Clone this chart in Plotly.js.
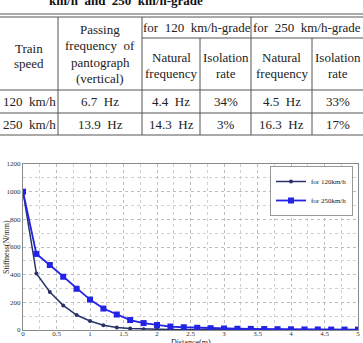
<!DOCTYPE html>
<html>
<head>
<meta charset="utf-8">
<script src="https://cdn.plot.ly/plotly-3.0.1.min.js"></script>
<style>
  html, body { margin: 0; padding: 0; background: #fff; }
  #chart { width: 363px; height: 343px; }
</style>
</head>
<body>
<div id="chart"></div>
<script>
// ---- Table data ----
const tableCaption = 'km/h\u00a0 and\u00a0 250\u00a0 km/h-grade';
const speedHeader = ['Train', 'speed'];
const passingHeader = ['Passing', 'frequency\u00a0 of', 'pantograph', '(vertical)'];
const gradeHeaders = ['for\u00a0 120\u00a0 km/h-grade', 'for\u00a0 250\u00a0 km/h-grade'];
const subHeaders = [['Natural', 'frequency'], ['Isolation', 'rate']];
const trainSpeeds = ['120\u00a0 km/h', '250\u00a0 km/h'];
const passingFreq = ['6.7\u00a0 Hz', '13.9\u00a0 Hz'];
const natural120 = ['4.4\u00a0 Hz', '14.3\u00a0 Hz'];
const isolation120 = ['34%', '3%'];
const natural250 = ['4.5\u00a0 Hz', '16.3\u00a0 Hz'];
const isolation250 = ['33%', '17%'];

// ---- Stiffness curves ----
const distance = [0, 0.2, 0.4, 0.6, 0.8, 1.0, 1.2, 1.4, 1.6, 1.8, 2.0, 2.2, 2.4,
                  2.6, 2.8, 3.0, 3.2, 3.4, 3.6, 3.8, 4.0, 4.2, 4.4, 4.6, 4.8, 5.0];
const stiffness120 = [1000, 408, 275, 178, 108, 65, 35, 18, 10, 6, 4, 3, 2,
                      2, 1, 1, 1, 1, 1, 0, 0, 0, 0, 0, 0, 0];
const stiffness250 = [1000, 550, 470, 385, 298, 220, 155, 112, 72, 50, 36, 25, 20,
                      16, 13, 11, 9, 8, 7, 6, 5, 4, 4, 3, 3, 3];
const seriesNames = ['for 120km/h', 'for 250km/h'];
const xTitle = 'Distance(m)';
const yTitle = 'Stiffness(N/mm)';

// ---- Table geometry (pixels from the top-left, converted to paper units) ----
const W = 363, H = 343;
const px = x => x / W;
const py = y => 1 - y / H;
const colEdges = [0, 58, 142, 200, 251, 312, 363];
const serif = 'Liberation Serif, Times New Roman, serif';
const textColor = '#222';
const ruleColor = '#555';

const shapes = [];
const annotations = [];

function hLine(x0, x1, y) {
  shapes.push({type: 'line', xref: 'paper', yref: 'paper', x0: px(x0), x1: px(x1), y0: py(y), y1: py(y),
               line: {color: ruleColor, width: 1}});
}
function vLine(x, y0, y1) {
  shapes.push({type: 'line', xref: 'paper', yref: 'paper', x0: px(x), x1: px(x), y0: py(y0), y1: py(y1),
               line: {color: ruleColor, width: 1}});
}
function cellText(text, x, y, opts) {
  annotations.push(Object.assign({
    text: text, xref: 'paper', yref: 'paper', x: px(x), y: py(y), showarrow: false,
    xanchor: 'center', yanchor: 'middle',
    font: {family: serif, size: 13, color: textColor}
  }, opts || {}));
}
const mid = (a, b) => (a + b) / 2;

// rules
hLine(0, W, 14);
hLine(0, W, 17);
hLine(colEdges[2], W, 38);
hLine(0, W, 90);
hLine(0, W, 113);
hLine(0, W, 135);
vLine(colEdges[1], 17, 135);
vLine(colEdges[2], 17, 135);
vLine(colEdges[3], 38, 135);
vLine(colEdges[4], 17, 135);
vLine(colEdges[5], 38, 135);

// caption line (continuation of a wrapped table title)
cellText('<b>' + tableCaption + '</b>', 126, 1, {font: {family: serif, size: 13, color: '#111'}});

// header
speedHeader.forEach((t, i) => cellText(t, mid(colEdges[0], colEdges[1]), 48 + i * 16));
passingHeader.forEach((t, i) => cellText(t, mid(colEdges[1], colEdges[2]), 30 + i * 16));
gradeHeaders.forEach((t, g) => cellText(t, mid(colEdges[2 + 2 * g], colEdges[4 + 2 * g]), 28));
[0, 1].forEach(g => {
  subHeaders.forEach((lines, s) => {
    const c = 2 + 2 * g + s;
    lines.forEach((t, i) => cellText(t, mid(colEdges[c], colEdges[c + 1]), 58 + i * 16));
  });
});

// body rows
const rowCenters = [101.5, 124];
const columns = [trainSpeeds, passingFreq, natural120, isolation120, natural250, isolation250];
columns.forEach((col, c) => {
  col.forEach((t, r) => cellText(t, mid(colEdges[c], colEdges[c + 1]), rowCenters[r]));
});

// ---- Chart ----
const plotLeft = 23, plotRight = 358, plotTop = 164, plotBottom = 330;

// axis titles placed just outside the tick labels
cellText(xTitle, mid(plotLeft, plotRight), 342, {font: {family: serif, size: 8, color: '#222'}});
cellText(yTitle, 6, mid(plotTop, plotBottom), {textangle: -90, font: {family: serif, size: 8, color: '#222'}});

const traces = [
  {
    x: distance, y: stiffness120, name: seriesNames[0], type: 'scatter', mode: 'lines+markers',
    line: {color: '#283268', width: 1.5},
    marker: {symbol: 'circle', size: 4, color: '#283268'}
  },
  {
    x: distance, y: stiffness250, name: seriesNames[1], type: 'scatter', mode: 'lines+markers',
    line: {color: '#2323e6', width: 1.8},
    marker: {symbol: 'square', size: 6, color: '#2323e6'}
  }
];

const layout = {
  width: W, height: H,
  margin: {l: 0, r: 0, t: 0, b: 0},
  paper_bgcolor: '#fff', plot_bgcolor: '#fff',
  showlegend: true,
  font: {family: serif, color: '#222'},
  xaxis: {
    domain: [px(plotLeft), px(plotRight)],
    range: [0, 5], dtick: 0.5, tick0: 0,
    showgrid: true, gridcolor: '#bdbdbd', griddash: 'dot', gridwidth: 1,
    minor: {dtick: 0.25, showgrid: true, gridcolor: '#d0d0d0', griddash: 'dot', gridwidth: 1},
    zeroline: false, showline: true, mirror: true, linecolor: '#8a8a8a', linewidth: 1,
    ticks: '', ticklabelstandoff: -3, tickfont: {family: serif, size: 7, color: '#333'},
    automargin: false
  },
  yaxis: {
    domain: [py(plotBottom), py(plotTop)],
    range: [0, 1200], dtick: 200, tick0: 0,
    showgrid: true, gridcolor: '#bdbdbd', griddash: 'dot', gridwidth: 1,
    minor: {dtick: 100, showgrid: true, gridcolor: '#d0d0d0', griddash: 'dot', gridwidth: 1},
    zeroline: false, showline: true, mirror: true, linecolor: '#8a8a8a', linewidth: 1,
    ticks: '', tickfont: {family: serif, size: 7, color: '#333'},
    automargin: false
  },
  legend: {
    x: px(353), xanchor: 'right', y: py(166), yanchor: 'top',
    bgcolor: '#fff', bordercolor: '#999', borderwidth: 1,
    font: {family: serif, size: 7, color: '#222'},
    tracegroupgap: 0, itemwidth: 30
  },
  shapes: shapes,
  annotations: annotations
};

Plotly.newPlot('chart', traces, layout, {staticPlot: true, displayModeBar: false});
</script>
</body>
</html>
